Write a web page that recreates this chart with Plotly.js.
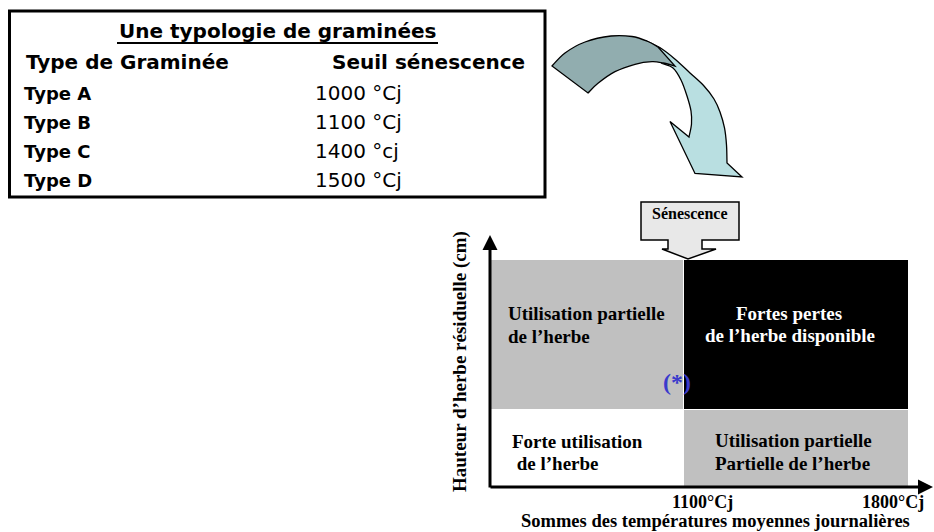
<!DOCTYPE html>
<html>
<head>
<meta charset="utf-8">
<script src="https://cdn.plot.ly/plotly-3.0.1.min.js"></script>
<style>html,body{margin:0;padding:0;background:#fff;}#chart{width:934px;height:532px;}</style>
</head>
<body>
<div id="chart"></div>
<script>
// ---------- data ----------
const tableTitle = "Une typologie de graminées";
const tableHeaders = ["Type de Graminée", "Seuil sénescence"];
const grassTypes = ["Type A", "Type B", "Type C", "Type D"];
const senescenceThresholds = ["1000 °Cj", "1100 °Cj", "1400 °cj", "1500 °Cj"];

const tempEdges = [500, 1100, 1800];          // sommes de températures (°Cj)
const heightEdges = [0, 34, 100];             // hauteur d'herbe résiduelle (relative)
const cellLevels = [[0, 1], [1, 2]];          // 0 = blanc, 1 = gris, 2 = noir
const tickTemps = [1100, 1800];
const tickLabels = ["1100°Cj", "1800°Cj"];
const cellTextTopLeft = ["Utilisation partielle", "de l’herbe"];
const cellTextTopRight = ["Fortes pertes", "de l’herbe disponible"];
const cellTextBottomLeft = ["Forte utilisation", " de l’herbe"];
const cellTextBottomRight = ["Utilisation partielle", "Partielle de l’herbe"];
const xTitle = "Sommes des températures moyennes journalières";
const yTitle = "Hauteur d’herbe résiduelle (cm)";
const calloutText = "Sénescence";
const markText = "(*)";

// ---------- helpers ----------
const W = 934, H = 532;
const px = x => x / W;
const py = y => 1 - y / H;
const f = v => v.toFixed(5);
function pt(p) { return f(px(p[0])) + "," + f(py(p[1])); }
function smooth(pts) {
  let s = "";
  for (let i = 0; i < pts.length - 1; i++) {
    const p0 = pts[i - 1] || pts[i], p1 = pts[i], p2 = pts[i + 1], p3 = pts[i + 2] || pts[i + 1];
    const c1 = [p1[0] + (p2[0] - p0[0]) / 6, p1[1] + (p2[1] - p0[1]) / 6];
    const c2 = [p2[0] - (p3[0] - p1[0]) / 6, p2[1] - (p3[1] - p1[1]) / 6];
    s += " C" + pt(c1) + " " + pt(c2) + " " + pt(p2);
  }
  return s;
}
function line(pts) { return pts.map(p => " L" + pt(p)).join(""); }

const serif = "Liberation Serif, Times New Roman, serif";
const sans = "DejaVu Sans, Liberation Sans, Arial, sans-serif";

// ---------- curved arrow ----------
const lightOuter = [[646,41],[662,49],[676,60],[690,73],[704,86],[714,99],[720,112],[724.5,128],[726.5,145],[727,163]];
const lightInner = [[689,137],[691.5,124],[691,111],[687,96],[681,80],[673,68],[662,63.5]];
const lightPath = "M" + pt(lightOuter[0]) + smooth(lightOuter) + line([[742,177],[695,173.5],[670,121.5]]) +
  line([lightInner[0]]) + smooth(lightInner) + " Z";
const darkOuter = [[552,66],[565,53],[585,42],[611,36],[632,36.5],[648,41.5],[658,47]];
const darkInner = [[675,66],[663,63],[652,61.7],[635,64.3],[615,71.7],[598,83.3],[588,93]];
const darkPath = "M" + pt(darkOuter[0]) + smooth(darkOuter) + line([darkInner[0]]) + smooth(darkInner) + " Z";

const calloutPath = "M" + pt([641,202]) + line([[739,202],[739,240],[702,240],[702,249],[716,249],[688,259],[662,249],[668,249],[668,240],[641,240]]) + " Z";

// ---------- traces ----------
const traces = [{
  type: "heatmap",
  x: tempEdges,
  y: heightEdges,
  z: cellLevels,
  zmin: 0, zmax: 2,
  colorscale: [[0, "#ffffff"], [0.5, "#c0c0c0"], [1, "#000000"]],
  showscale: false,
  xgap: 1, ygap: 1,
  hoverinfo: "skip"
}];

// ---------- annotations ----------
const ann = [];
function txt(text, x, y, size, opts) {
  ann.push(Object.assign({
    text: text, x: px(x), y: py(y), xref: "paper", yref: "paper",
    showarrow: false, xanchor: "left", yanchor: "middle",
    font: { family: serif, size: size, color: "#000", weight: 700 }
  }, opts || {}));
}
// table
txt(tableTitle, 277, 31, 20, { xanchor: "center", font: { family: sans, size: 20, color: "#000", weight: 700 } });
txt(tableHeaders[0], 24, 62, 20, { font: { family: sans, size: 20, color: "#000", weight: 700 } });
txt(tableHeaders[1], 330, 62, 20, { font: { family: sans, size: 20, color: "#000", weight: 700 } });
grassTypes.forEach((t, i) => {
  const y = 93 + i * 29;
  txt(t, 22, y, 18, { font: { family: sans, size: 18, color: "#000", weight: 700 } });
  txt(senescenceThresholds[i], 313, y, 20, { font: { family: sans, size: 20, color: "#000", weight: 400 } });
});
// diagram cell texts
txt(cellTextTopLeft[0], 506, 313, 19);
txt(cellTextTopLeft[1], 506, 336, 19);
txt(cellTextTopRight[0], 789, 313, 19, { xanchor: "center", font: { family: serif, size: 19, color: "#fff", weight: 700 } });
txt(cellTextTopRight[1], 790, 335, 19, { xanchor: "center", font: { family: serif, size: 19, color: "#fff", weight: 700 } });
txt(cellTextBottomLeft[0], 510, 441, 19);
txt(cellTextBottomLeft[1], 510, 463, 19);
txt(cellTextBottomRight[0], 713, 440, 19);
txt(cellTextBottomRight[1], 713, 463, 19);
txt(markText, 677, 382, 24, { xanchor: "center", font: { family: serif, size: 24, color: "#3a3acc", weight: 700 } });
txt(calloutText, 690, 214, 16, { xanchor: "center" });
// tick labels via data axis
tickTemps.forEach((t, i) => {
  ann.push({
    text: tickLabels[i], x: t, y: py(502), xref: "x", yref: "paper", showarrow: false,
    xanchor: "center", yanchor: "middle", xshift: i === 0 ? 19 : -16, borderpad: 0,
    font: { family: serif, size: 18, color: "#000", weight: 700 }
  });
});
txt(xTitle, 715, 520.5, 18.5, { xanchor: "center", borderpad: 0 });
txt(yTitle, 460, 362, 19, { xanchor: "center", textangle: -90 });
// axis arrows
ann.push({ text: "", x: px(934), y: py(487), xref: "paper", yref: "paper", ax: -(934 - 489), ay: 0,
  axref: "pixel", ayref: "pixel", showarrow: true, arrowhead: 2, arrowsize: 1, arrowwidth: 3, arrowcolor: "#000", standoff: 0 });
ann.push({ text: "", x: px(490), y: py(235), xref: "paper", yref: "paper", ax: 0, ay: (489 - 235),
  axref: "pixel", ayref: "pixel", showarrow: true, arrowhead: 2, arrowsize: 1, arrowwidth: 3, arrowcolor: "#000", standoff: 0 });

// ---------- shapes ----------
const shapes = [
  { type: "rect", xref: "paper", yref: "paper", x0: px(9.5), x1: px(545), y0: py(11), y1: py(197),
    line: { color: "#000", width: 3 }, fillcolor: "rgba(0,0,0,0)" },
  { type: "line", xref: "paper", yref: "paper", x0: px(117), x1: px(438), y0: py(43), y1: py(43),
    line: { color: "#000", width: 2 } },
  { type: "path", xref: "paper", yref: "paper", path: lightPath, fillcolor: "#b9dfe1", line: { color: "#000", width: 1.3 } },
  { type: "path", xref: "paper", yref: "paper", path: darkPath, fillcolor: "#91adaf", line: { color: "#000", width: 1.3 } },
  { type: "path", xref: "paper", yref: "paper", path: calloutPath, fillcolor: "#e8e8e8", line: { color: "#000", width: 1.5 } }
];

const layout = {
  width: W, height: H, autosize: false,
  margin: { l: 0, r: 0, t: 0, b: 0, pad: 0 },
  paper_bgcolor: "#fff", plot_bgcolor: "#fff",
  showlegend: false,
  xaxis: { domain: [px(491), px(909)], range: [500, 1800], visible: false, fixedrange: true },
  yaxis: { domain: [py(487), py(260)], range: [0, 100], visible: false, fixedrange: true },
  annotations: ann,
  shapes: shapes
};

Plotly.newPlot("chart", traces, layout, { staticPlot: true, displayModeBar: false });
</script>
</body>
</html>
